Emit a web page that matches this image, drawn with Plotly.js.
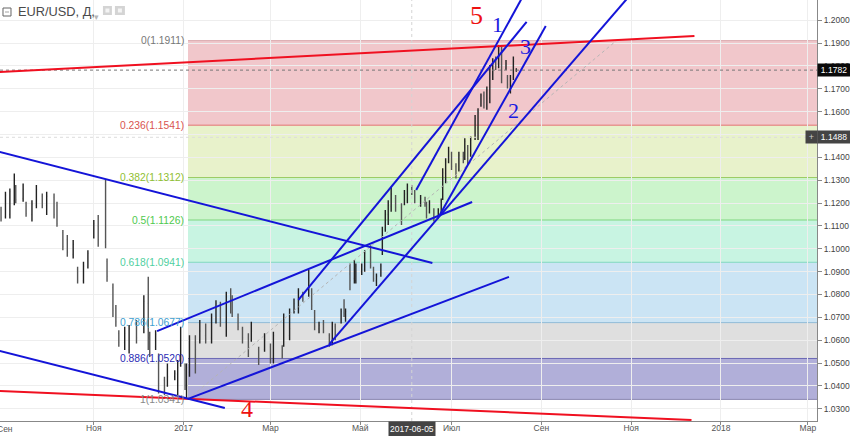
<!DOCTYPE html>
<html><head><meta charset="utf-8">
<script src="https://cdn.plot.ly/plotly-3.0.1.min.js"></script>
<style>html,body{margin:0;padding:0;background:#fff}#c{width:850px;height:436px}</style>
</head><body><div id="c"></div>
<script>
const dates=["2016-08-30","2016-09-02","2016-09-05","2016-09-08","2016-09-09","2016-09-14","2016-09-16","2016-09-20","2016-09-23","2016-09-27","2016-09-30","2016-10-05","2016-10-07","2016-10-11","2016-10-14","2016-10-18","2016-10-21","2016-10-25","2016-10-28","2016-11-01","2016-11-04","2016-11-09","2016-11-10","2016-11-14","2016-11-16","2016-11-18","2016-11-22","2016-11-25","2016-11-30","2016-12-05","2016-12-08","2016-12-09","2016-12-13","2016-12-15","2016-12-19","2016-12-21","2016-12-26","2016-12-28","2016-12-30","2017-01-02","2017-01-03","2017-01-05","2017-01-09","2017-01-12","2017-01-16","2017-01-20","2017-01-23","2017-01-26","2017-01-30","2017-02-02","2017-02-03","2017-02-07","2017-02-10","2017-02-14","2017-02-16","2017-02-21","2017-02-25","2017-03-01","2017-03-03","2017-03-09","2017-03-10","2017-03-14","2017-03-17","2017-03-20","2017-03-23","2017-03-27","2017-03-29","2017-03-31","2017-04-03","2017-04-06","2017-04-10","2017-04-12","2017-04-14","2017-04-18","2017-04-20","2017-04-21","2017-04-24","2017-04-27","2017-04-28","2017-05-02","2017-05-04","2017-05-08","2017-05-10","2017-05-12","2017-05-15","2017-05-16","2017-05-18","2017-05-20","2017-05-22","2017-05-25","2017-05-29","2017-05-31","2017-06-02","2017-06-05","2017-06-07","2017-06-11","2017-06-14","2017-06-15","2017-06-17","2017-06-20","2017-06-23","2017-06-25","2017-06-26","2017-06-28","2017-06-30","2017-07-02","2017-07-05","2017-07-07","2017-07-10","2017-07-11","2017-07-13","2017-07-15","2017-07-18","2017-07-20","2017-07-22","2017-07-24","2017-07-26","2017-07-28","2017-07-30","2017-08-01","2017-08-03","2017-08-05","2017-08-08","2017-08-09","2017-08-11","2017-08-13","2017-08-15"];
const high=[1.1184,1.1250,1.1264,1.1330,1.1279,1.1286,1.1206,1.1213,1.1279,1.1242,1.1250,1.1242,1.1206,1.1082,1.1060,1.1038,1.0921,1.0943,1.0994,1.1126,1.1148,1.1301,1.0958,1.0848,1.0754,1.0644,1.0659,1.0666,1.0688,1.0797,1.0878,1.0637,1.0644,1.0542,1.0440,1.0498,1.0469,1.0513,1.0659,1.0498,1.0498,1.0622,1.0622,1.0688,1.0673,1.0717,1.0775,1.0768,1.0812,1.0827,1.0797,1.0717,1.0659,1.0630,1.0681,1.0571,1.0630,1.0586,1.0637,1.0578,1.0717,1.0739,1.0783,1.0827,1.0812,1.0907,1.0827,1.0732,1.0681,1.0688,1.0630,1.0681,1.0673,1.0739,1.0779,1.0739,1.0936,1.0951,1.0936,1.0936,1.0994,1.1016,1.0921,1.0892,1.0936,1.1097,1.1170,1.1213,1.1272,1.1235,1.1199,1.1257,1.1286,1.1279,1.1257,1.1235,1.1228,1.1206,1.1213,1.1177,1.1177,1.1220,1.1352,1.1396,1.1447,1.1425,1.1374,1.1425,1.1425,1.1484,1.1454,1.1491,1.1586,1.1615,1.1680,1.1688,1.1710,1.1804,1.1834,1.1841,1.1892,1.1892,1.1826,1.1761,1.1761,1.1841,1.1790];
const low=[1.1119,1.1133,1.1133,1.1191,1.1199,1.1206,1.1140,1.1119,1.1177,1.1177,1.1148,1.1133,1.1096,1.0994,1.0965,1.0958,1.0848,1.0848,1.0914,1.1045,1.1009,1.1002,1.0856,1.0702,1.0659,1.0571,1.0557,1.0542,1.0586,1.0630,1.0557,1.0527,1.0557,1.0367,1.0360,1.0396,1.0425,1.0360,1.0484,1.0382,1.0345,1.0440,1.0454,1.0586,1.0586,1.0586,1.0673,1.0659,1.0615,1.0717,1.0702,1.0644,1.0586,1.0527,1.0593,1.0491,1.0549,1.0498,1.0498,1.0520,1.0571,1.0600,1.0717,1.0717,1.0768,1.0790,1.0732,1.0644,1.0630,1.0630,1.0571,1.0578,1.0600,1.0673,1.0702,1.0681,1.0819,1.0848,1.0848,1.0885,1.0900,1.0914,1.0856,1.0837,1.0878,1.0973,1.1075,1.1104,1.1162,1.1162,1.1104,1.1191,1.1199,1.1235,1.1199,1.1184,1.1184,1.1133,1.1155,1.1119,1.1133,1.1148,1.1214,1.1287,1.1374,1.1345,1.1308,1.1338,1.1374,1.1389,1.1367,1.1403,1.1476,1.1476,1.1622,1.1614,1.1608,1.1637,1.1739,1.1783,1.1790,1.1724,1.1783,1.1702,1.1680,1.1739,1.1775];
const open=[1.1170,1.1140,1.1150,1.1210,1.1270,1.1220,1.1200,1.1150,1.1190,1.1230,1.1190,1.1225,1.1190,1.1070,1.1040,1.0975,1.0910,1.0860,1.0920,1.1050,1.1100,1.1030,1.0945,1.0830,1.0740,1.0630,1.0590,1.0560,1.0650,1.0650,1.0760,1.0620,1.0570,1.0530,1.0425,1.0400,1.0440,1.0450,1.0490,1.0470,1.0400,1.0460,1.0590,1.0600,1.0620,1.0610,1.0680,1.0750,1.0680,1.0780,1.0750,1.0700,1.0650,1.0610,1.0600,1.0560,1.0560,1.0570,1.0510,1.0570,1.0580,1.0620,1.0730,1.0740,1.0790,1.0800,1.0815,1.0720,1.0650,1.0670,1.0620,1.0590,1.0660,1.0680,1.0720,1.0715,1.0890,1.0870,1.0860,1.0900,1.0910,1.0990,1.0910,1.0860,1.0885,1.0980,1.1085,1.1150,1.1185,1.1220,1.1180,1.1195,1.1210,1.1270,1.1250,1.1200,1.1215,1.1195,1.1160,1.1165,1.1140,1.1160,1.1220,1.1330,1.1380,1.1415,1.1360,1.1345,1.1405,1.1395,1.1445,1.1410,1.1480,1.1530,1.1630,1.1670,1.1630,1.1660,1.1760,1.1815,1.1810,1.1860,1.1790,1.1750,1.1700,1.1750,1.1780];
const close=[1.1135,1.1235,1.1250,1.1300,1.1215,1.1260,1.1155,1.1195,1.1260,1.1190,1.1230,1.1150,1.1110,1.1010,1.0985,1.1020,1.0860,1.0925,1.0980,1.1110,1.1040,1.1020,1.0880,1.0730,1.0680,1.0590,1.0630,1.0650,1.0610,1.0770,1.0610,1.0545,1.0625,1.0410,1.0395,1.0440,1.0455,1.0480,1.0520,1.0405,1.0480,1.0600,1.0560,1.0640,1.0605,1.0700,1.0760,1.0680,1.0790,1.0760,1.0720,1.0660,1.0610,1.0570,1.0640,1.0520,1.0600,1.0520,1.0620,1.0535,1.0690,1.0650,1.0760,1.0790,1.0780,1.0860,1.0750,1.0660,1.0665,1.0640,1.0590,1.0670,1.0620,1.0725,1.0715,1.0725,1.0860,1.0880,1.0925,1.0925,1.0980,1.0925,1.0870,1.0880,1.0925,1.1080,1.1150,1.1190,1.1240,1.1180,1.1160,1.1240,1.1275,1.1250,1.1210,1.1220,1.1195,1.1145,1.1200,1.1135,1.1170,1.1210,1.1335,1.1380,1.1425,1.1360,1.1330,1.1410,1.1385,1.1470,1.1395,1.1475,1.1570,1.1600,1.1670,1.1640,1.1695,1.1785,1.1820,1.1800,1.1870,1.1760,1.1810,1.1720,1.1745,1.1820,1.1782];

const tickVals=["2016-11-01","2017-01-01","2017-03-01","2017-05-01","2017-07-02","2017-09-01","2017-11-01","2018-01-01","2018-03-01"];
const tickText=["Ноя","2017","Мар","Май","Июл","Сен","Ноя","2018","Мар"];
const firstTick=["2016-09-02","Сен"];
const priceTicks=[1.03,1.04,1.05,1.06,1.07,1.08,1.09,1.10,1.11,1.12,1.13,1.14,1.15,1.16,1.17,1.18,1.19,1.20];

const fibStart="2017-01-04", fibEnd="2018-03-07 06:00";
const fibRatios=["0","0.236","0.382","0.5","0.618","0.786","0.886","1"];
const fibPrices=[1.1911,1.1541,1.1312,1.1126,1.0941,1.0677,1.0520,1.0341];
const fibLabelColors=["#777777","#d9534f","#8fc031","#4ec94e","#4fcfa0","#3f9fd0","#2b2bb5","#888888"];
const fibLineColors=["#d8a8ac","#e57373","#9ccc65","#7ed67e","#80d8c0","#90bcd8","#6b68b5","#8a88b0"];
const fibFills=["rgba(223,130,140,.45)","rgba(190,220,110,.36)","rgba(120,225,120,.38)","rgba(110,225,180,.38)","rgba(110,180,225,.36)","rgba(150,150,150,.30)","rgba(70,65,165,.42)"];

const redLines=[[["2016-08-29",1.1774],["2017-12-14",1.1931]],[["2016-08-29",1.0378],["2017-12-12",1.0251]]];
const blueLines=[
 [["2016-08-29",1.1424],["2017-06-19",1.0938]],
 [["2016-08-29",1.0553],["2017-01-29",1.0303]],
 [["2016-12-14",1.0640],["2017-07-16",1.1205]],
 [["2017-01-04",1.0343],["2017-08-10",1.0877]],
 [["2017-06-08",1.1257],["2017-08-20",1.2111]],
 [["2017-03-20",1.0776],["2017-08-22",1.1993]],
 [["2017-06-24",1.1148],["2017-09-04",1.1975]],
 [["2017-04-10",1.0583],["2017-10-29",1.2093]]
];
const waveLabels=[["5","2017-07-19",1.2022,"#ee1111",26],["1","2017-08-02",1.1982,"#1a1ae0",22],["3","2017-08-21",1.1885,"#1a1ae0",22],["2","2017-08-13",1.1604,"#1a1ae0",22],["4","2017-02-13",1.0299,"#ee1111",24]];

const lastPrice=1.1782, crossPrice=1.1488, crossDate="2017-06-05";

const shapes=[], annotations=[];
for(let i=0;i<fibFills.length;i++){
  shapes.push({type:"rect",layer:"below",xref:"x",yref:"y",x0:fibStart,x1:fibEnd,y0:fibPrices[i+1],y1:fibPrices[i],fillcolor:fibFills[i],line:{width:0}});
}
fibPrices.forEach((p,i)=>{
  shapes.push({type:"line",layer:"below",xref:"x",yref:"y",x0:fibStart,x1:fibEnd,y0:p,y1:p,line:{color:fibLineColors[i],width:1}});
  annotations.push({xref:"x",yref:"y",x:fibStart,y:p,text:fibRatios[i]+"("+p.toFixed(4)+")",showarrow:false,xanchor:"right",yanchor:"middle",xshift:-2,font:{family:"Liberation Sans, Arial",size:10.3,color:fibLabelColors[i]}});
});
shapes.push({type:"line",xref:"x",yref:"y",x0:fibStart,y0:fibPrices[7],x1:"2017-10-22",y1:fibPrices[0],line:{color:"#b5b5b5",width:1,dash:"dot"}});
shapes.push({type:"line",xref:"paper",yref:"y",x0:0,x1:1,y0:lastPrice,y1:lastPrice,line:{color:"#777",width:1,dash:"dot"}});
shapes.push({type:"line",xref:"paper",yref:"y",x0:0,x1:1,y0:crossPrice,y1:crossPrice,line:{color:"#dcdcdc",width:1,dash:"dot"}});
shapes.push({type:"line",xref:"x",yref:"paper",x0:crossDate,x1:crossDate,y0:0,y1:1,line:{color:"#d4d4d4",width:1,dash:"dot"}});
redLines.forEach(l=>shapes.push({type:"line",xref:"x",yref:"y",x0:l[0][0],y0:l[0][1],x1:l[1][0],y1:l[1][1],line:{color:"#f01020",width:2}}));
blueLines.forEach(l=>shapes.push({type:"line",xref:"x",yref:"y",x0:l[0][0],y0:l[0][1],x1:l[1][0],y1:l[1][1],line:{color:"#1414d8",width:2}}));
waveLabels.forEach(w=>annotations.push({xref:"x",yref:"y",x:w[1],y:w[2],text:w[0],showarrow:false,font:{family:"Liberation Serif, Times New Roman",size:w[4],color:w[3]}}));

annotations.push({xref:"x",yref:"paper",x:firstTick[0],y:0,yshift:-8,text:firstTick[1],showarrow:false,xanchor:"center",yanchor:"middle",font:{family:"Liberation Sans, Arial",size:8.5,color:"#555"}});
annotations.push({xref:"paper",yref:"paper",x:16/817.5,y:1-11.5/421,text:"EUR/USD, Д,",showarrow:false,xanchor:"left",yanchor:"middle",font:{family:"Liberation Sans, Arial",size:12.8,color:"#4a4a4a"}});
annotations.push({xref:"paper",yref:"paper",x:92.5/817.5,y:1-10/421,text:"▾",showarrow:false,font:{family:"DejaVu Sans",size:9,color:"#b5b5b5"}});
const pr=(x0,y0,x1,y1,o)=>Object.assign({type:"rect",xref:"paper",yref:"paper",x0:x0/817.5,x1:x1/817.5,y0:1-y0/421,y1:1-y1/421},o);
shapes.push(pr(3,8,11,16,{fillcolor:"#fff",line:{color:"#666",width:1}}));
shapes.push(pr(5,11.7,9,12.3,{fillcolor:"#666",line:{width:0}}));
shapes.push(pr(103,6,112,15,{fillcolor:"#d4d4d4",line:{width:0}}));
shapes.push(pr(115,6,125,15,{fillcolor:"#d4d4d4",line:{width:0}}));
shapes.push(pr(105.5,8.5,109.5,12.5,{fillcolor:"#f4f4f4",line:{width:0}}));
shapes.push(pr(118,8.5,122,12.5,{fillcolor:"#f4f4f4",line:{width:0}}));

annotations.push({xref:"paper",yref:"y",x:1,y:lastPrice,text:lastPrice.toFixed(4),showarrow:false,xanchor:"left",yanchor:"middle",width:30,height:10,bgcolor:"#0a0a0a",borderpad:1,font:{family:"Liberation Sans, Arial",size:8.5,color:"#fff"}});
annotations.push({xref:"paper",yref:"y",x:1,y:crossPrice,text:crossPrice.toFixed(4),showarrow:false,xanchor:"left",yanchor:"middle",width:30,height:10,bgcolor:"#444",borderpad:1,font:{family:"Liberation Sans, Arial",size:8.5,color:"#fff"}});
annotations.push({xref:"paper",yref:"y",x:1,y:crossPrice,xshift:-6,text:"+",showarrow:false,xanchor:"center",yanchor:"middle",width:9,height:10,bgcolor:"#444",borderpad:1,font:{family:"Liberation Sans, Arial",size:9,color:"#ccc"}});
annotations.push({xref:"x",yref:"paper",x:crossDate,y:0,text:crossDate,showarrow:false,xanchor:"center",yanchor:"top",width:44,height:12,bgcolor:"#444",borderpad:1,font:{family:"Liberation Sans, Arial",size:8.5,color:"#fff"}});

const trace={type:"ohlc",x:dates,open:open,high:high,low:low,close:close,tickwidth:.5,
  increasing:{line:{color:"#222222",width:1.4}},decreasing:{line:{color:"#555555",width:1.4}},hoverinfo:"skip",showlegend:false};
const layout={width:850,height:436,margin:{l:0,r:32.5,t:0,b:15,pad:0},paper_bgcolor:"#fff",plot_bgcolor:"#fff",showlegend:false,dragmode:false,
  xaxis:{type:"date",range:["2016-08-29 07:00","2018-03-07 06:00"],tickmode:"array",tickvals:tickVals,ticktext:tickText,tickangle:0,ticks:"outside",ticklen:3,tickcolor:"#888",ticklabelstandoff:-4,showgrid:true,gridcolor:"#eeeeee",zeroline:false,showline:true,linecolor:"#888",linewidth:1,rangeslider:{visible:false},tickfont:{family:"Liberation Sans, Arial",size:8.5,color:"#555"},automargin:false},
  yaxis:{side:"right",type:"linear",range:[1.02464,1.20888],tickmode:"array",tickvals:priceTicks,ticktext:priceTicks.map(v=>v.toFixed(4)),ticks:"outside",ticklen:4,tickcolor:"#888",showgrid:true,gridcolor:"#eeeeee",zeroline:false,showline:true,linecolor:"#888",linewidth:1,tickfont:{family:"Liberation Sans, Arial",size:8.5,color:"#444"},automargin:false},
  shapes:shapes,annotations:annotations};
Plotly.newPlot("c",[trace],layout,{displayModeBar:false,staticPlot:true});
</script></body></html>
